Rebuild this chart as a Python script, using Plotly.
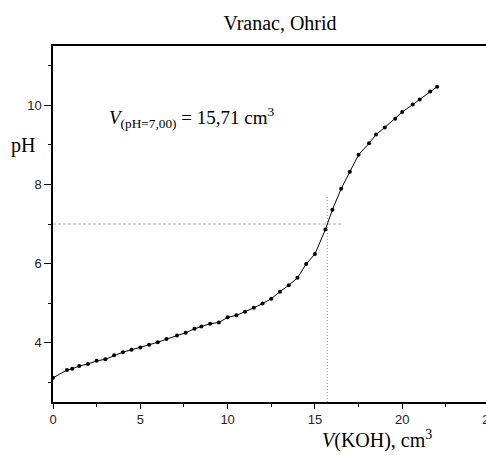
import plotly.graph_objects as go

# Titration data
v_koh = [0, 0.8, 1.1, 1.5, 2, 2.5, 3, 3.5, 4, 4.5, 5, 5.5, 6, 6.5, 7.1, 7.6, 8.1, 8.5, 9, 9.5,
         10, 10.5, 11, 11.5, 12, 12.5, 13, 13.5, 14, 14.5, 15, 15.6, 16, 16.5, 17, 17.5, 18.1,
         18.5, 19, 19.6, 20, 20.6, 21, 21.6, 22]
ph = [3.11, 3.31, 3.34, 3.41, 3.46, 3.54, 3.58, 3.68, 3.76, 3.82, 3.88, 3.95, 4.01, 4.09, 4.18,
      4.25, 4.35, 4.41, 4.48, 4.51, 4.64, 4.69, 4.78, 4.88, 4.99, 5.11, 5.29, 5.45, 5.64, 5.99,
      6.24, 6.86, 7.36, 7.89, 8.32, 8.75, 9.04, 9.26, 9.44, 9.66, 9.83, 10.02, 10.15, 10.35, 10.47]

# Equivalence guide lines
ph_ref = 7.0
h_line_x = [0, 16.55]
v_eq = 15.71
v_line_y = [2.5, 7.7]

x_ticks = [0, 5, 10, 15, 20, 25]
y_ticks = [4, 6, 8, 10]

fig = go.Figure()
fig.add_trace(go.Scatter(x=h_line_x, y=[ph_ref, ph_ref], mode="lines",
                         line=dict(color="#aaaaaa", width=1, dash="3px,2px"),
                         showlegend=False, hoverinfo="skip"))
fig.add_trace(go.Scatter(x=[v_eq, v_eq], y=v_line_y, mode="lines",
                         line=dict(color="#999999", width=1, dash="1px,2px"),
                         showlegend=False, hoverinfo="skip"))
fig.add_trace(go.Scatter(x=v_koh, y=ph, mode="lines+markers",
                         line=dict(color="black", width=1),
                         marker=dict(color="black", size=4),
                         showlegend=False))

tickfont = dict(family="Liberation Sans, Arial", size=13, color="#222222")
serif = "Liberation Serif, Times New Roman"

fig.update_layout(
    width=520, height=455,
    margin=dict(l=52.5, r=13.3, t=46, b=53),
    paper_bgcolor="white", plot_bgcolor="white",
    title=dict(text="Vranac, Ohrid", x=0.5, xref="paper", y=1, yref="container",
               yanchor="top", pad=dict(t=16),
               font=dict(family=serif, size=20, color="black")),
    xaxis=dict(range=[0, 26], tickvals=x_ticks, ticks="outside", ticklen=5, tickwidth=1,
               tickcolor="black", showline=True, linecolor="black", linewidth=1.5,
               mirror=True, showgrid=False, zeroline=False, tickfont=tickfont,
               minor=dict(dtick=2.5, tick0=0, ticks="outside", ticklen=3,
                          tickcolor="black", showgrid=False)),
    yaxis=dict(range=[2.5, 11.5], tickvals=y_ticks, ticks="outside", ticklen=7, tickwidth=1,
               tickcolor="black", showline=True, linecolor="black", linewidth=1.5,
               mirror=False, showgrid=False, zeroline=False, tickfont=tickfont,
               minor=dict(dtick=1, tick0=0, ticks="outside", ticklen=3,
                          tickcolor="black", showgrid=False)),
    annotations=[
        dict(text="<i>V</i><sub>(pH=7,00)</sub> = 15,71 cm<sup>3</sup>",
             xref="paper", yref="paper", x=0.12, y=0.80, xanchor="left", yanchor="middle",
             showarrow=False, font=dict(family=serif, size=19, color="black")),
        dict(text="pH", xref="paper", yref="paper", x=-0.067, y=0.721,
             xanchor="center", yanchor="middle", showarrow=False,
             font=dict(family=serif, size=20, color="black")),
        dict(text="<i>V</i>(KOH), cm<sup>3</sup>", xref="paper", yref="paper",
             x=0.714, y=-0.105, xanchor="center", yanchor="middle", showarrow=False,
             font=dict(family=serif, size=20, color="black")),
    ],
)

fig.write_html("out.html",
               post_script="document.documentElement.style.overflow='hidden';"
                           "document.body.style.overflow='hidden';")
